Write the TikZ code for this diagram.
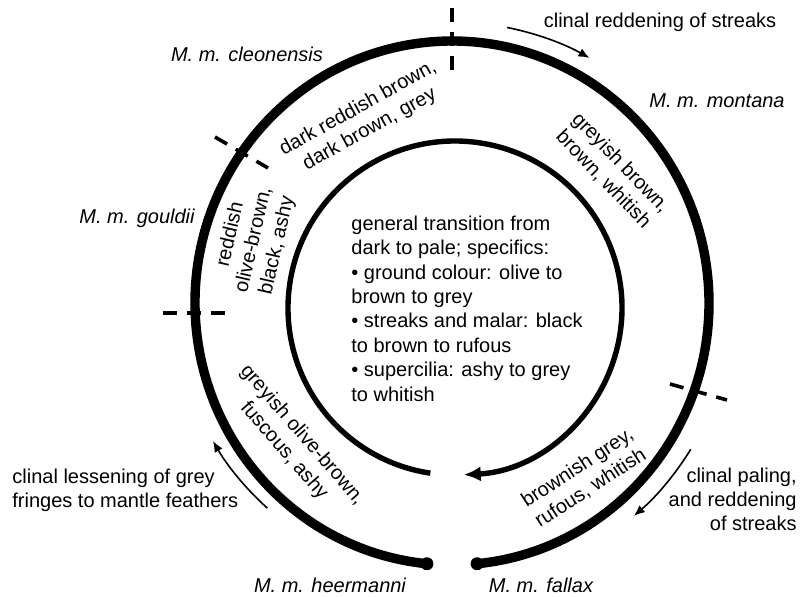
\documentclass[tikz,border=0pt]{standalone}
\usepackage{fontspec}
\setmainfont{Liberation Sans}
\usetikzlibrary{arrows.meta,calc}
\begin{document}
\begin{tikzpicture}[x=0.5pt,y=0.5pt,
  lbl/.style={font=\fontsize{10}{12}\selectfont, inner sep=0pt},
  sp/.style={font=\fontsize{10}{12}\selectfont\itshape, inner sep=0pt, anchor=base},
  ring/.style={line width=4.7pt},
  inring/.style={line width=2.7pt},
  divmark/.style={line width=1.8pt, dash pattern=on 7pt off 5pt},
  cline/.style={line width=0.8pt, -{Latex[length=5.5pt,width=4.5pt]}},
]
\useasboundingbox (0,0) rectangle (802,596);
\coordinate (O) at (452,293);
\coordinate (I) at (455,288);
% outer ring
\coordinate (fallaxend) at ($(O)+(-84.4:257 and 262)$);
\coordinate (heermend) at ($(O)+(264.4:257 and 262)$);
\draw[ring] (fallaxend) arc[start angle=-84.4, end angle=264.4, x radius=257, y radius=262];
\fill (fallaxend) circle[radius=6.5];
\fill (heermend) circle[radius=6.5];
% inner ring with arrow
\coordinate (instart) at ($(I)+(261.5:167)$);
\draw[inring, -{Latex[length=8.5pt,width=7.5pt]}] (instart) arc[start angle=261.5, end angle=-87, radius=167];
% boundary marks
\coordinate (m1a) at (452,588); \coordinate (m1b) at (452,526);
\coordinate (m2a) at (215,459); \coordinate (m2b) at (268,428);
\coordinate (m3a) at (163,283); \coordinate (m3b) at (225,283);
\coordinate (m4a) at (670,212); \coordinate (m4b) at (727,196);
\draw[divmark] (m1a) -- (m1b);
\draw[divmark] (m2a) -- (m2b);
\draw[divmark] (m3a) -- (m3b);
\draw[divmark] (m4a) -- (m4b);
% clinal arrows
\coordinate (a1) at ($(O)+(78.7:281)$);
\draw[cline] (a1) arc[start angle=78.7, end angle=60.7, radius=281];
\coordinate (a2) at ($(O)+(228:276)$);
\draw[cline] (a2) arc[start angle=228, end angle=210, radius=276];
\coordinate (a3) at ($(O)+(-31.5:280)$);
\draw[cline] (a3) arc[start angle=-31.5, end angle=-49.5, radius=280];
% subspecies names
\node[sp] (cleo) at (247,534) {M. m. cleonensis};
\node[sp] (mont) at (717,489) {M. m. montana};
\node[sp] (gould) at (137,373) {M. m. gouldii};
\node[sp] (heer) at (330,4) {M. m. heermanni};
\node[sp] (fall) at (541,4) {M. m. fallax};
% clinal labels
\node[lbl, anchor=base] (clred) at (660,568) {clinal reddening of streaks};
\node[lbl, anchor=base west, align=left] (clless) at (12,89) {clinal lessening of grey\\fringes to mantle feathers};
\node[lbl, anchor=base east, align=right] (clpal) at (797,66) {clinal paling,\\and reddening\\of streaks};
% ring texts
\node[lbl, align=center, rotate=-46] (tmont) at (612,425) {greyish brown,\\brown, whitish};
\node[lbl, align=center, rotate=29] (tcleo) at (364,477) {dark reddish brown,\\dark brown, grey};
\node[lbl, align=center, rotate=77] (tgould) at (254,356) {reddish\\olive-brown,\\black, ashy};
\node[lbl, align=center, rotate=-49] (theer) at (293,153) {greyish olive-brown,\\fuscous, ashy};
\node[lbl, align=center, rotate=33] (tfall) at (584,118) {brownish grey,\\rufous, whitish};
% centre text
\node[font=\fontsize{10}{12.2}\selectfont, inner sep=0pt, anchor=base west, align=left] (centre) at (351,195)
 {general transition from\\dark to pale; specifics:\\\textbullet\ ground colour: olive to\\brown to grey\\\textbullet\ streaks and malar: black\\to brown to rufous\\\textbullet\ supercilia: ashy to grey\\to whitish};
\end{tikzpicture}
\end{document}
